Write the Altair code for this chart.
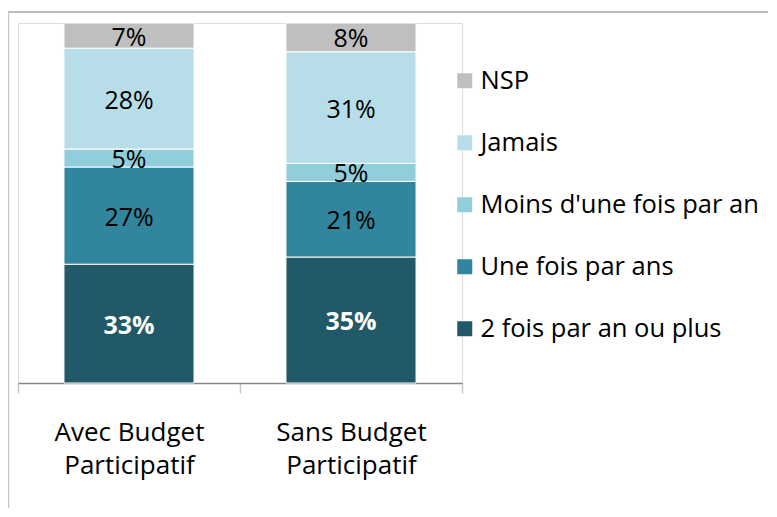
import altair as alt
import pandas as pd

categories = ["Avec Budget Participatif", "Sans Budget Participatif"]
series = ["2 fois par an ou plus", "Une fois par ans", "Moins d'une fois par an", "Jamais", "NSP"]
avec_values = [33, 27, 5, 28, 7]
sans_values = [35, 21, 5, 31, 8]
colors = ["#215968", "#31859C", "#92CDDC", "#B7DEE8", "#BFBFBF"]

rows = []
for cat, vals in zip(categories, [avec_values, sans_values]):
    for i, (s, v) in enumerate(zip(series, vals)):
        rows.append({"category": cat, "series": s, "value": v, "order": i})
df = pd.DataFrame(rows)

FONT = "Open Sans"

base = alt.Chart(df).transform_stack(
    stack="value", groupby=["category"], as_=["y0", "y1"],
    sort=[alt.SortField("order", order="ascending")]
).transform_calculate(mid="(datum.y0 + datum.y1) / 2", label="datum.value + '%'")

x_scale = alt.Scale(paddingInner=0, paddingOuter=0)

x_enc = alt.X("category:N", sort=categories, title=None, scale=x_scale,
              axis=alt.Axis(labelAngle=0, labelFont=FONT, labelFontSize=26,
                            labelColor="#000000", labelPadding=26, labelLineHeight=33,
                            labelExpr="[substring(datum.label, 0, lastindexof(datum.label, ' ')), substring(datum.label, lastindexof(datum.label, ' ') + 1)]",
                            domainColor="#868686", domainWidth=1.5,
                            tickColor="#C8C8C8", tickSize=10, tickWidth=1.5, tickBand="extent"))

y_scale = alt.Scale(domain=[0, 100])

bars = base.mark_bar(stroke="white", strokeWidth=1, width=alt.RelativeBandSize(0.586)).encode(
    x=x_enc,
    y=alt.Y("y0:Q", scale=y_scale, axis=None),
    y2="y1:Q",
    color=alt.Color("series:N", scale=alt.Scale(domain=series[::-1], range=colors[::-1]),
                    sort=series[::-1],
                    legend=alt.Legend(title=None, orient="none", legendX=434, legendY=45,
                                      symbolType="square", symbolSize=225, symbolStrokeWidth=0,
                                      labelFont=FONT, labelFontSize=25.5, labelColor="#000000",
                                      labelLimit=0, labelOffset=3, rowPadding=35, padding=0)),
)

labels_dark = base.transform_filter("datum.order == 0").mark_text(
    font=FONT, fontSize=25, fontWeight="bold", color="white", baseline="middle", dy=2
).encode(
    x=alt.X("category:N", sort=categories, scale=x_scale),
    y=alt.Y("mid:Q", scale=y_scale),
    text=alt.Text("label:N"),
)

labels_light = base.transform_filter("datum.order > 0").mark_text(
    font=FONT, fontSize=25, color="black", baseline="middle", dy=2
).encode(
    x=alt.X("category:N", sort=categories, scale=x_scale),
    y=alt.Y("mid:Q", scale=y_scale),
    text=alt.Text("label:N"),
)

frame_data = alt.Data(values=[{"k": 1}])
frame_top = alt.Chart(frame_data).mark_rule(color="#A6A6A6", strokeWidth=1.5, clip=False).encode(
    x=alt.value(-10), x2=alt.value(750), y=alt.value(-11), y2=alt.value(-11))
frame_left = alt.Chart(frame_data).mark_rule(color="#C8C8C8", strokeWidth=1.5, clip=False).encode(
    x=alt.value(-9.5), x2=alt.value(-9.5), y=alt.value(-11), y2=alt.value(490))

chart = alt.layer(frame_top, frame_left, bars, labels_dark, labels_light).properties(
    width=444, height=360,
    padding={"left": 10, "top": 15, "right": 306, "bottom": 125},
    autosize=alt.AutoSizeParams(type="none"),
).configure_view(stroke=None).configure(background="white")

chart.save("out.html", embed_options={"renderer": "svg", "actions": False})
